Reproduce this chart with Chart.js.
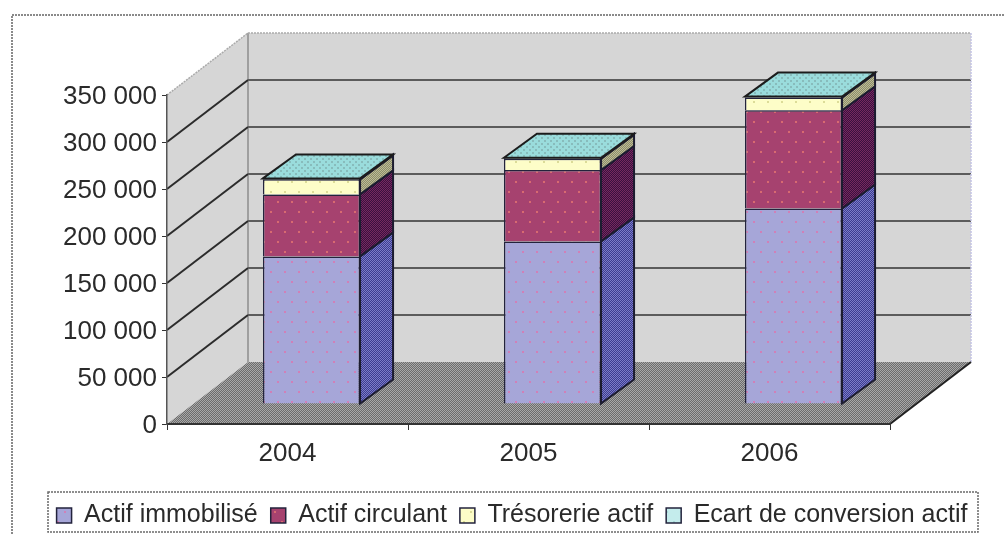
<!DOCTYPE html>
<html>
<head>
<meta charset="utf-8">
<title>Actif</title>
<script src="https://cdn.jsdelivr.net/npm/chart.js@4/dist/chart.umd.min.js"></script>
<style>
  html, body { margin: 0; padding: 0; background: #fff; overflow: hidden; }
  #wrap { width: 1004px; height: 534px; }
  canvas { filter: blur(0.7px); }
</style>
</head>
<body>
<div id="wrap"><canvas id="actifChart" width="1004" height="534"></canvas></div>
<script>
// Data
const years = ['2004', '2005', '2006'];
const actifImmobilise = [157000, 173000, 208000];
const actifCirculant = [66000, 76000, 104500];
const tresorerieActif = [16000, 12000, 13500];
const ecartConversion = [1000, 1000, 1000];

const seriesNames = ['Actif immobilisé', 'Actif circulant', 'Trésorerie actif', 'Ecart de conversion actif'];
const seriesValues = [actifImmobilise, actifCirculant, tresorerieActif, ecartConversion];

// 3D look: offsets of the back wall and of the bars, in pixels
const wallDx = 81, wallDy = 62;
const barPlaneDx = 24, barPlaneDy = 20;
const barDepthDx = 33, barDepthDy = 24;

function dotTile(base, dot, w, h) {
    const c = document.createElement('canvas');
    c.width = w; c.height = h;
    const g = c.getContext('2d');
    g.fillStyle = base;
    g.fillRect(0, 0, w, h);
    g.fillStyle = dot;
    g.fillRect(1, 1, 2, 2);
    g.fillRect(w / 2 + 1, h / 2 + 1, 2, 2);
    return g.createPattern(c, 'repeat');
}

function ditherTile(a, b) {
    const c = document.createElement('canvas');
    c.width = 2; c.height = 2;
    const g = c.getContext('2d');
    g.fillStyle = a;
    g.fillRect(0, 0, 2, 2);
    g.fillStyle = b;
    g.fillRect(0, 0, 1, 1);
    g.fillRect(1, 1, 1, 1);
    return g.createPattern(c, 'repeat');
}

const frontFills = [
    dotTile('#a6a6d8', '#d080b8', 14, 20),
    dotTile('#a6426f', '#d86a70', 14, 20),
    dotTile('#fdfdc8', '#dcdc98', 14, 20),
    dotTile('#c4ecec', '#a8d8d8', 14, 20)
];
const sideFills = [
    ditherTile('#3c3c90', '#7c7cc8'),
    ditherTile('#3a0f40', '#762a5e'),
    ditherTile('#8c8c6c', '#bcbc94'),
    ditherTile('#5c8484', '#8cb4b4')
];
const topFill = dotTile('#9adcdc', '#88bcbc', 6, 6);
const floorFill = ditherTile('#6c6c6c', '#a8a8a8');

function poly(ctx, pts, fill, stroke) {
    ctx.beginPath();
    pts.forEach((p, i) => i ? ctx.lineTo(p[0], p[1]) : ctx.moveTo(p[0], p[1]));
    ctx.closePath();
    if (fill) { ctx.fillStyle = fill; ctx.fill(); }
    if (stroke) { ctx.strokeStyle = stroke; ctx.lineWidth = 2; ctx.stroke(); }
}

const box3d = {
    id: 'box3d',
    // outer frame, walls, floor and gridlines behind the bars
    beforeDraw(chart) {
        const ctx = chart.ctx;
        const { left, right, top, bottom } = chart.chartArea;
        const y = chart.scales.y;
        ctx.save();

        ctx.strokeStyle = '#8a8a8a';
        ctx.lineWidth = 2;
        ctx.setLineDash([2, 1]);
        ctx.beginPath();
        ctx.moveTo(12, 534);
        ctx.lineTo(12, 15);
        ctx.lineTo(1004, 15);
        ctx.stroke();
        ctx.setLineDash([]);

        poly(ctx, [[left, top], [left + wallDx, top - wallDy], [left + wallDx, bottom - wallDy], [left, bottom]], '#d6d6d6');
        poly(ctx, [[left + wallDx, top - wallDy], [right + wallDx, top - wallDy], [right + wallDx, bottom - wallDy], [left + wallDx, bottom - wallDy]], '#d6d6d6');
        poly(ctx, [[left, bottom], [left + wallDx, bottom - wallDy], [right + wallDx, bottom - wallDy], [right, bottom]], floorFill);

        ctx.strokeStyle = '#8c8c8c';
        ctx.lineWidth = 1.5;
        ctx.beginPath();
        ctx.moveTo(left + wallDx, top - wallDy);
        ctx.lineTo(left + wallDx, bottom - wallDy);
        ctx.stroke();

        ctx.lineWidth = 2;
        y.ticks.forEach(t => {
            const py = y.getPixelForValue(t.value);
            if (t.value === 0 || t.value === y.max) return;
            // dark on the side wall, a bit softer on the back wall
            ctx.strokeStyle = '#2c2c2c';
            ctx.beginPath();
            ctx.moveTo(left, py);
            ctx.lineTo(left + wallDx, py - wallDy);
            ctx.stroke();
            ctx.strokeStyle = '#5c5c5c';
            ctx.beginPath();
            ctx.moveTo(left + wallDx, py - wallDy);
            ctx.lineTo(right + wallDx, py - wallDy);
            ctx.stroke();
        });

        ctx.strokeStyle = '#ababab';
        ctx.lineWidth = 1.5;
        ctx.setLineDash([2, 1]);
        ctx.beginPath();
        ctx.moveTo(left, top);
        ctx.lineTo(left + wallDx, top - wallDy);
        ctx.lineTo(right + wallDx, top - wallDy);
        ctx.stroke();
        ctx.strokeStyle = '#c4c4e4';
        ctx.beginPath();
        ctx.moveTo(right + wallDx, top - wallDy);
        ctx.lineTo(right + wallDx, bottom - wallDy);
        ctx.stroke();
        ctx.setLineDash([]);

        ctx.strokeStyle = '#222';
        ctx.lineWidth = 2;
        ctx.beginPath();
        ctx.moveTo(right, bottom);
        ctx.lineTo(right + wallDx, bottom - wallDy);
        ctx.stroke();

        // frame of the legend
        ctx.strokeStyle = '#6a6a6a';
        ctx.lineWidth = 1.5;
        ctx.setLineDash([2, 1]);
        ctx.strokeRect(48, 492, 930, 40);
        ctx.restore();
    },
    // the bars are pushed back onto their own plane
    beforeDatasetsDraw(chart) {
        chart.ctx.save();
        chart.ctx.translate(barPlaneDx, -barPlaneDy);
    },
    afterDatasetsDraw(chart) {
        const ctx = chart.ctx;
        chart.data.datasets.forEach((ds, i) => {
            chart.getDatasetMeta(i).data.forEach(bar => {
                const xr = bar.x + bar.width / 2;
                const xl = bar.x - bar.width / 2;
                poly(ctx, [[xr, bar.y], [xr + barDepthDx, bar.y - barDepthDy], [xr + barDepthDx, bar.base - barDepthDy], [xr, bar.base]], sideFills[i], '#1c1c30');
                if (i === chart.data.datasets.length - 1) {
                    poly(ctx, [[xl, bar.y], [xl + barDepthDx, bar.y - barDepthDy], [xr + barDepthDx, bar.y - barDepthDy], [xr, bar.y]], topFill, '#1c1c1c');
                }
            });
        });
        ctx.restore();
    }
};

const chart = new Chart(document.getElementById('actifChart').getContext('2d'), {
    type: 'bar',
    data: {
        labels: years,
        datasets: seriesNames.map((name, i) => ({
            label: name,
            data: seriesValues[i],
            backgroundColor: frontFills[i],
            borderColor: '#23233c',
            borderWidth: 1.5,
            categoryPercentage: 1,
            barPercentage: 0.403
        }))
    },
    plugins: [box3d],
    options: {
        responsive: false,
        animation: false,
        layout: { padding: { left: 20, right: 0, top: 95, bottom: -4 } },
        plugins: {
            tooltip: { enabled: false },
            legend: {
                position: 'bottom',
                labels: {
                    font: { family: 'Liberation Sans', size: 25 },
                    color: '#2a2a2a',
                    boxWidth: 15,
                    boxHeight: 15,
                    padding: 13
                }
            }
        },
        scales: {
            x: {
                stacked: true,
                afterFit: s => { s.height = 66; },
                grid: { drawOnChartArea: false, color: '#333', tickLength: 6 },
                border: { color: '#333', width: 2 },
                ticks: { font: { family: 'Liberation Sans', size: 26 }, color: '#2a2a2a', padding: 8 }
            },
            y: {
                stacked: true,
                min: 0,
                max: 350000,
                afterFit: s => { s.width = 147; },
                grid: { drawOnChartArea: false, color: '#333', tickLength: 5 },
                border: { color: '#555', width: 1.5 },
                ticks: {
                    stepSize: 50000,
                    font: { family: 'Liberation Sans', size: 26 },
                    color: '#2a2a2a',
                    padding: 5,
                    labelOffset: 2,
                    callback: v => String(v).replace(/\B(?=(\d{3})+$)/g, ' ')
                }
            },
            yRight: {
                position: 'right',
                grid: { display: false },
                border: { display: false },
                ticks: { display: false },
                afterFit: s => { s.width = 114; }
            }
        }
    }
});
</script>
</body>
</html>
